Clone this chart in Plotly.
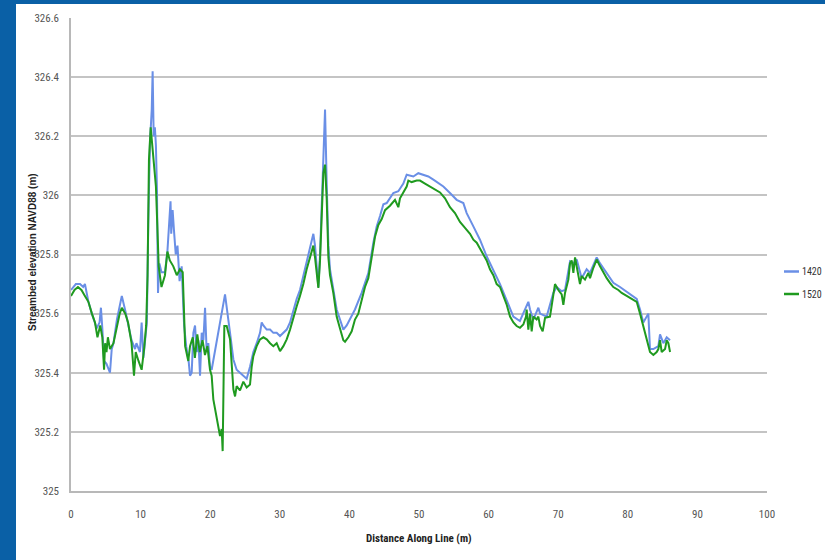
import plotly.graph_objects as go

# ---------------- data ----------------
x_1420 = [0.0, 0.7, 1.3, 1.75, 2.0, 2.5, 3.0, 3.7, 4.1, 4.3, 4.5, 4.75, 5.1, 5.6, 5.85, 6.1,
          6.6, 7.0, 7.3, 7.8, 8.2, 8.7, 9.2, 9.4, 9.9, 10.15, 10.4, 10.6, 10.9, 11.1, 11.35,
          11.6, 11.73, 11.88, 12.05, 12.2, 12.35, 12.5, 12.7, 13.0, 13.5, 13.85, 14.1, 14.3,
          14.4, 14.6, 14.8, 15.05, 15.3, 15.6, 15.9, 16.25, 16.55, 16.9, 17.1, 17.34, 17.58,
          17.82, 18.06, 18.3, 18.54, 18.78, 19.02, 19.26, 19.49, 19.73, 19.97, 20.21, 22.13,
          22.37, 22.85, 23.33, 23.8, 24.28, 24.76, 25.24, 25.72, 25.96, 26.2, 26.68, 27.16,
          27.4, 27.64, 28.12, 28.6, 29.07, 29.55, 30.03, 30.51, 30.99, 31.47, 31.95, 32.43,
          32.9, 33.38, 33.86, 34.34, 34.82, 35.06, 35.3, 35.54, 35.78, 36.02, 36.26, 36.5,
          36.74, 36.98, 37.21, 37.69, 38.17, 38.65, 39.13, 39.61, 40.09, 40.8, 41.76, 42.72,
          43.44, 43.92, 44.4, 44.88, 45.36, 46.31, 47.03, 47.75, 48.23, 49.19, 49.9, 50.62,
          51.34, 52.06, 52.78, 53.5, 54.45, 55.41, 56.37, 56.85, 57.81, 58.76, 59.72, 60.68,
          61.64, 62.6, 63.55, 64.5, 65.47, 65.71, 65.95, 66.43, 67.15, 67.39, 68.34, 69.3,
          69.78, 70.5, 70.98, 71.7, 72.18, 72.66, 73.37, 74.09, 74.57, 75.53, 76.01, 76.97,
          77.92, 78.88, 80.32, 81.28, 81.76, 82.23, 82.95, 83.19, 83.67, 84.39, 84.63,
          85.11, 85.59, 86.07]
y_1420 = [325.68, 325.70, 325.70, 325.69, 325.70, 325.64, 325.60, 325.55, 325.57, 325.62,
          325.55, 325.44, 325.43, 325.40, 325.48, 325.50, 325.58, 325.63, 325.66, 325.61,
          325.56, 325.51, 325.48, 325.50, 325.47, 325.57, 325.45, 325.51, 325.57, 325.90,
          326.18, 326.29, 326.42, 326.20, 326.23, 326.17, 326.02, 325.67, 325.77, 325.74,
          325.74, 325.81, 325.92, 325.98, 325.87, 325.95, 325.88, 325.80, 325.83, 325.71,
          325.76, 325.56, 325.49, 325.44, 325.39, 325.40, 325.535, 325.56, 325.47, 325.51,
          325.39, 325.535, 325.51, 325.62, 325.47, 325.50, 325.42, 325.41, 325.665, 325.625,
          325.535, 325.445, 325.41, 325.40, 325.39, 325.38, 325.42, 325.445, 325.47, 325.50,
          325.535, 325.57, 325.56, 325.546, 325.546, 325.535, 325.535, 325.524, 325.535,
          325.546, 325.57, 325.615, 325.65, 325.68, 325.73, 325.78, 325.83, 325.87, 325.83,
          325.76, 325.69, 325.80, 325.986, 326.155, 326.29, 326.04, 325.83, 325.75, 325.68,
          325.614, 325.58, 325.546, 325.56, 325.58, 325.614, 325.67, 325.737, 325.84,
          325.895, 325.93, 325.97, 325.974, 326.008, 326.014, 326.04, 326.07, 326.064,
          326.075, 326.07, 326.064, 326.053, 326.04, 326.03, 326.008, 325.985, 325.974,
          325.94, 325.895, 325.85, 325.794, 325.749, 325.70, 325.645, 325.59, 325.575,
          325.63, 325.64, 325.614, 325.58, 325.62, 325.60, 325.59, 325.67, 325.69, 325.676,
          325.68, 325.777, 325.77, 325.783, 325.72, 325.75, 325.738, 325.79, 325.77, 325.738,
          325.704, 325.69, 325.665, 325.65, 325.614, 325.57, 325.60, 325.48, 325.48, 325.49,
          325.53, 325.50, 325.52, 325.51]

x_1520 = [0.0, 0.5, 1.0, 1.5, 2.0, 2.5, 3.0, 3.45, 3.8, 4.2, 4.5, 4.75, 4.9, 5.1, 5.3, 5.6,
          6.1, 6.6, 7.0, 7.3, 7.8, 8.2, 8.7, 9.05, 9.3, 9.7, 10.15, 10.5, 10.8, 11.0, 11.2,
          11.45, 11.7, 12.0, 12.2, 12.4, 12.6, 13.0, 13.5, 13.85, 14.2, 14.7, 15.2, 15.65,
          16.05, 16.4, 16.85, 17.1, 17.5, 17.8, 18.15, 18.5, 18.9, 19.25, 19.6, 19.97, 20.21,
          20.45, 20.93, 21.17, 21.41, 21.65, 21.79, 22.03, 22.37, 22.85, 23.09, 23.33, 23.57,
          23.8, 24.28, 24.76, 25.24, 25.72, 25.96, 26.2, 26.68, 27.16, 27.64, 28.12, 28.6,
          29.07, 29.55, 30.03, 30.51, 30.99, 31.47, 31.95, 32.43, 32.9, 33.38, 33.86, 34.34,
          34.82, 35.06, 35.3, 35.54, 35.78, 36.02, 36.26, 36.5, 36.74, 36.98, 37.21, 37.69,
          38.17, 38.65, 39.13, 39.37, 39.85, 40.33, 40.8, 41.28, 41.76, 42.24, 42.72, 43.2,
          43.68, 44.16, 44.64, 45.12, 45.83, 46.55, 47.03, 47.27, 47.75, 48.23, 48.47, 48.95,
          49.67, 50.14, 50.86, 51.58, 52.3, 53.02, 53.74, 54.45, 55.17, 55.89, 56.61, 57.33,
          57.81, 58.29, 58.76, 59.24, 59.72, 60.2, 60.68, 61.16, 61.64, 62.12, 62.6, 63.08,
          63.56, 64.03, 64.51, 64.99, 65.38, 65.47, 65.71, 65.95, 66.19, 66.43, 66.9, 67.15,
          67.39, 67.77, 68.11, 68.82, 69.3, 69.54, 70.02, 70.5, 70.74, 70.98, 71.46, 71.7,
          71.94, 72.18, 72.42, 72.66, 73.13, 73.37, 73.85, 74.33, 74.57, 75.05, 75.53, 76.01,
          76.49, 76.97, 77.44, 77.92, 78.64, 79.12, 79.84, 80.56, 81.28, 81.76, 82.23, 82.71,
          83.19, 83.67, 84.15, 84.39, 84.63, 84.87, 85.35, 85.59, 85.83, 86.07]
y_1520 = [325.66, 325.68, 325.69, 325.68, 325.66, 325.64, 325.60, 325.57, 325.52, 325.56,
          325.52, 325.41, 325.50, 325.47, 325.52, 325.48, 325.50, 325.56, 325.60, 325.62,
          325.60, 325.57, 325.50, 325.39, 325.47, 325.44, 325.41, 325.48, 325.56, 325.73,
          326.12, 326.23, 326.17, 326.09, 326.03, 325.90, 325.76, 325.69, 325.73, 325.81,
          325.78, 325.76, 325.73, 325.75, 325.74, 325.49, 325.44, 325.49, 325.52, 325.45,
          325.53, 325.47, 325.51, 325.46, 325.49, 325.41, 325.39, 325.31, 325.242, 325.208,
          325.186, 325.21, 325.135, 325.558, 325.558, 325.513, 325.42, 325.344, 325.32,
          325.355, 325.34, 325.37, 325.35, 325.36, 325.42, 325.456, 325.49, 325.513, 325.52,
          325.513, 325.50, 325.49, 325.50, 325.473, 325.49, 325.513, 325.546, 325.59, 325.625,
          325.66, 325.70, 325.75, 325.794, 325.83, 325.79, 325.74, 325.687, 325.78, 325.93,
          326.076, 326.104, 325.986, 325.79, 325.73, 325.67, 325.59, 325.55, 325.51, 325.505,
          325.52, 325.54, 325.58, 325.60, 325.65, 325.69, 325.72, 325.79, 325.86, 325.90,
          325.92, 325.95, 325.965, 325.985, 325.96, 325.99, 326.01, 326.03, 326.05, 326.045,
          326.05, 326.05, 326.04, 326.03, 326.02, 326.01, 325.99, 325.96, 325.94, 325.91,
          325.89, 325.87, 325.85, 325.84, 325.82, 325.80, 325.78, 325.75, 325.73, 325.70,
          325.69, 325.66, 325.63, 325.59, 325.57, 325.558, 325.552, 325.563, 325.59, 325.614,
          325.546, 325.60, 325.54, 325.59, 325.58, 325.59, 325.558, 325.54, 325.586, 325.59,
          325.66, 325.70, 325.68, 325.665, 325.63, 325.67, 325.715, 325.77, 325.78, 325.738,
          325.79, 325.76, 325.70, 325.727, 325.715, 325.738, 325.72, 325.755, 325.783, 325.76,
          325.738, 325.72, 325.704, 325.69, 325.68, 325.67, 325.66, 325.65, 325.64, 325.60,
          325.56, 325.51, 325.47, 325.46, 325.47, 325.48, 325.51, 325.47, 325.48, 325.51,
          325.50, 325.47]

series_names = ["1420", "1520"]
series_colors = ["#6a8fe6", "#1f9a1f"]

x_tick_vals = [0, 10, 20, 30, 40, 50, 60, 70, 80, 90, 100]
y_tick_vals = [325.0, 325.2, 325.4, 325.6, 325.8, 326.0, 326.2, 326.4, 326.6]
y_tick_text = ["325", "325.2", "325.4", "325.6", "325.8", "326", "326.2", "326.4", "326.6"]

x_title = "Distance Along Line (m)"
y_title = "Streambed elevation NAVD88 (m)"

# ---------------- figure ----------------
W, H = 825, 560
L, R, T, B = 71, 58, 18, 69
pw, ph = W - L - R, H - T - B


def px_x(p):
    return (p - L) / pw


def px_y(p):
    return (H - B - p) / ph


narrow = "Liberation Sans Narrow, Arial Narrow, Roboto Condensed, Liberation Sans, Arial, sans-serif"

fig = go.Figure()
for name, xs, ys, col in [(series_names[0], x_1420, y_1420, series_colors[0]),
                          (series_names[1], x_1520, y_1520, series_colors[1])]:
    fig.add_trace(go.Scatter(x=xs, y=ys, mode="lines", name=name,
                             line=dict(color=col, width=2), showlegend=False))

shapes = [
    # blue frame: left strip and top strip
    dict(type="rect", xref="paper", yref="paper", x0=px_x(-5), x1=px_x(16),
         y0=px_y(H + 5), y1=px_y(-5), fillcolor="#0a60a6", line=dict(width=0), layer="below"),
    dict(type="rect", xref="paper", yref="paper", x0=px_x(-5), x1=px_x(W + 5),
         y0=px_y(4), y1=px_y(-5), fillcolor="#0a60a6", line=dict(width=0), layer="below"),
]
annotations = []
# legend (manual, to match compact swatches)
leg_y = [271.5, 294]
for name, col, yy in zip(series_names, series_colors, leg_y):
    shapes.append(dict(type="line", xref="paper", yref="paper", x0=px_x(784), x1=px_x(799),
                       y0=px_y(yy), y1=px_y(yy), line=dict(color=col, width=2.5)))
    annotations.append(dict(text=name, xref="paper", yref="paper", x=px_x(800), y=px_y(yy),
                            xanchor="left", yanchor="middle", showarrow=False,
                            font=dict(family=narrow, size=10, color="#333333")))
annotations.append(dict(text="<b>" + x_title + "</b>", xref="paper", yref="paper",
                        x=px_x(419), y=px_y(538), xanchor="center", yanchor="middle",
                        showarrow=False, font=dict(family=narrow, size=11, color="#222222")))
annotations.append(dict(text="<b>" + y_title + "</b>", xref="paper", yref="paper",
                        x=px_x(32), y=px_y(252), xanchor="center", yanchor="middle",
                        textangle=-90, showarrow=False,
                        font=dict(family="Liberation Sans, Arial, sans-serif", size=10, color="#222222")))

fig.update_layout(
    width=W, height=H,
    margin=dict(l=L, r=R, t=T, b=B, pad=0),
    paper_bgcolor="white", plot_bgcolor="white",
    shapes=shapes, annotations=annotations,
    showlegend=False,
)
fig.update_xaxes(range=[0, 100], tickvals=x_tick_vals, showgrid=False,
                 showline=True, linecolor="#b8b8b8", linewidth=1.5, zeroline=False,
                 ticks="", ticklabelstandoff=12,
                 tickfont=dict(family=narrow, size=11, color="#555555"))
fig.update_yaxes(range=[325.0, 326.6], tickvals=y_tick_vals, ticktext=y_tick_text,
                 showgrid=True, gridcolor="#c4c4c4", gridwidth=1.5,
                 showline=True, linecolor="#b8b8b8", linewidth=1.5, zeroline=False,
                 ticks="", ticklabelstandoff=8,
                 tickfont=dict(family=narrow, size=11, color="#555555"))

fig.write_html("out.html")
